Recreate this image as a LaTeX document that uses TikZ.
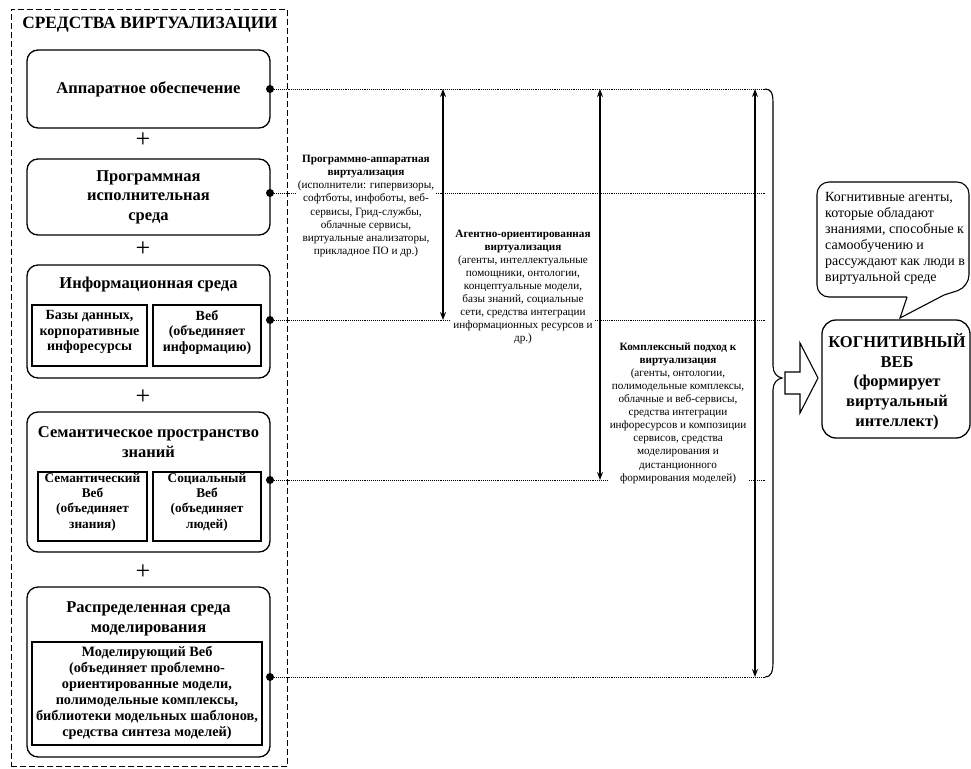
\documentclass[tikz,border=0pt]{standalone}
\usepackage{fontspec}
\setmainfont{Liberation Serif}
\usetikzlibrary{arrows.meta}
\begin{document}
\begin{tikzpicture}[x=1pt,y=-1pt,
  rbox/.style={draw, line width=1.3pt, rounded corners=11pt, minimum width=243pt, inner sep=0pt},
  ibox/.style={draw, line width=1.1pt, inner sep=0pt},
  btitle/.style={font=\fontsize{16.5}{19.5}\selectfont\bfseries, align=center, inner sep=0pt},
  itext/.style={font=\fontsize{14}{15.5}\selectfont\bfseries, align=center, inner sep=0pt},
  joint/.style={circle, fill=black, inner sep=0pt, minimum size=8pt},
  dline/.style={densely dotted, line width=0.9pt},
  midtext/.style={fill=white, inner sep=2pt, align=center, font=\fontsize{11.2}{13.1}\selectfont},
  vdarrow/.style={line width=1.2pt, {Stealth[length=8pt,width=6pt]}-{Stealth[length=8pt,width=6pt]}},
  plussign/.style={font=\fontsize{26}{26}\selectfont, inner sep=0pt}
]
\useasboundingbox (0,0) rectangle (971,768);

% outer dashed frame
\node[draw, line width=1pt, dash pattern=on 6pt off 3pt, minimum width=276pt, minimum height=757pt, inner sep=0pt] (frame) at (149,388) {};
\node[font=\fontsize{17.3}{18}\selectfont\bfseries, inner sep=0pt] (title) at (150,25) {СРЕДСТВА ВИРТУАЛИЗАЦИИ};

% box 1
\node[rbox, minimum height=78pt] (hw) at (148.5,89) {};
\node[btitle] (hwt) at (148.5,89) {Аппаратное обеспечение};
\node[plussign] (p1) at (143,140) {+};
% box 2
\node[rbox, minimum height=76pt] (sw) at (148.5,197) {};
\node[btitle] (swt) at (148.5,197) {Программная\\исполнительная\\среда};
\node[plussign] (p2) at (143,249) {+};
% box 3
\node[rbox, minimum height=113pt] (info) at (148.5,321.5) {};
\node[btitle] (infot) at (148.5,285) {Информационная среда};
\node[ibox, minimum width=115pt, minimum height=61pt] (db) at (89.5,335.5) {};
\node[itext] (dbt) at (89.5,332) {Базы данных,\\корпоративные\\инфоресурсы};
\node[ibox, minimum width=108pt, minimum height=61pt] (web) at (207,335.5) {};
\node[itext] (webt) at (207,332) {Веб\\(объединяет\\информацию)};
\node[plussign] (p3) at (143,397) {+};
% box 4
\node[rbox, minimum height=140pt] (sem) at (148.5,482) {};
\node[btitle] (semt) at (148.5,442) {Семантическое пространство\\знаний};
\node[ibox, minimum width=109pt, minimum height=69pt] (sweb) at (92.5,506.5) {};
\node[itext, font=\fontsize{13.3}{15.3}\selectfont\bfseries] (swebt) at (92.5,502) {Семантический\\Веб\\(объединяет\\знания)};
\node[ibox, minimum width=108pt, minimum height=69pt] (soc) at (207,506.5) {};
\node[itext, font=\fontsize{13.3}{15.3}\selectfont\bfseries] (soct) at (207,502) {Социальный\\Веб\\(объединяет\\людей)};
\node[plussign] (p4) at (143,572) {+};
% box 5
\node[rbox, minimum height=170pt] (model) at (148.5,672) {};
\node[btitle] (modelt) at (148.5,619) {Распределенная среда\\моделирования};
\node[ibox, minimum width=230pt, minimum height=103pt] (mweb) at (147,693.5) {};
\node[itext, font=\fontsize{14.3}{16}\selectfont\bfseries] (mwebt) at (147,693) {Моделирующий Веб\\(объединяет проблемно-\\ориентированные модели,\\полимодельные комплексы,\\библиотеки модельных шаблонов,\\средства синтеза моделей)};

% joints
\node[joint] (j1) at (270,89) {};
\node[joint] (j2) at (270,193) {};
\node[joint] (j3) at (270,320) {};
\node[joint] (j4) at (270,480) {};
\node[joint] (j5) at (270,677) {};
\coordinate (e1) at (765,89);
\coordinate (e2) at (765,193);
\coordinate (e3) at (765,320);
\coordinate (e4) at (765,480);
\coordinate (e5) at (765,677);

% dotted lines
\draw[dline] (j1) -- (e1);
\draw[dline] (j2) -- (e2);
\draw[dline] (j3) -- (e3);
\draw[dline] (j4) -- (e4);
\draw[dline] (j5) -- (e5);

% middle texts
\node[midtext] (t1) at (366,206) {\textbf{Программно-аппаратная}\\\textbf{виртуализация}\\(исполнители: гипервизоры,\\софтботы, инфоботы, веб-\\сервисы, Грид-службы,\\облачные сервисы,\\виртуальные анализаторы,\\прикладное ПО и др.)};
\node[midtext] (t2) at (523,287) {\textbf{Агентно-ориентированная}\\\textbf{виртуализация}\\(агенты, интеллектуальные\\помощники, онтологии,\\концептуальные модели,\\базы знаний, социальные\\сети, средства интеграции\\информационных ресурсов и\\др.)};
\node[midtext] (t3) at (678,413) {\textbf{Комплексный подход к}\\\textbf{виртуализация}\\(агенты, онтологии,\\полимодельные комплексы,\\облачные и веб-сервисы,\\средства интеграции\\инфоресурсов и композиции\\сервисов, средства\\моделирования и\\дистанционного\\формирования моделей)};

% arrows
\coordinate (a1t) at (443,89);
\coordinate (a1b) at (443,320);
\coordinate (a2t) at (600,89);
\coordinate (a2b) at (600,480);
\coordinate (a3t) at (755,89);
\coordinate (a3b) at (755,677);
\draw[vdarrow] (a1t) -- (a1b);
\draw[vdarrow] (a2t) -- (a2b);
\draw[vdarrow] (a3t) -- (a3b);

% brace
\draw[line width=1.1pt] (e1) .. controls (771,89) and (773,93) .. (773,103) -- (773,366)
  .. controls (773,373) and (777,377) .. (782,378)
  .. controls (777,379) and (773,383) .. (773,390) -- (773,662)
  .. controls (773,672) and (771,677) .. (e5);

% block arrow
\draw[line width=1.1pt, fill=white] (785,372) -- (800,372) -- (800,343) -- (818,378) -- (800,413) -- (800,394) -- (785,394) -- cycle;

% callout
\draw[line width=1.1pt, fill=white] (907,297) [rounded corners=12pt] -- (817,297) -- (817,182) -- (969,182) -- (969,287) [sharp corners] -- (944,295) -- (900,318) -- (907,297);
\node[anchor=west, align=left, inner sep=0pt, font=\fontsize{14}{16}\selectfont] (callt) at (825,238.5) {Когнитивные агенты,\\которые обладают\\знаниями, способные к\\самообучению и\\рассуждают как люди в\\виртуальной среде};

% cognitive web
\node[draw, line width=1.3pt, rounded corners=14pt, minimum width=148pt, minimum height=118pt, inner sep=0pt] (cog) at (896,379) {};
\node[font=\fontsize{16.5}{19.7}\selectfont\bfseries, align=center, inner sep=0pt] (cogt) at (897,381.5) {КОГНИТИВНЫЙ\\ВЕБ\\(формирует\\виртуальный\\интеллект)};
\end{tikzpicture}
\end{document}
